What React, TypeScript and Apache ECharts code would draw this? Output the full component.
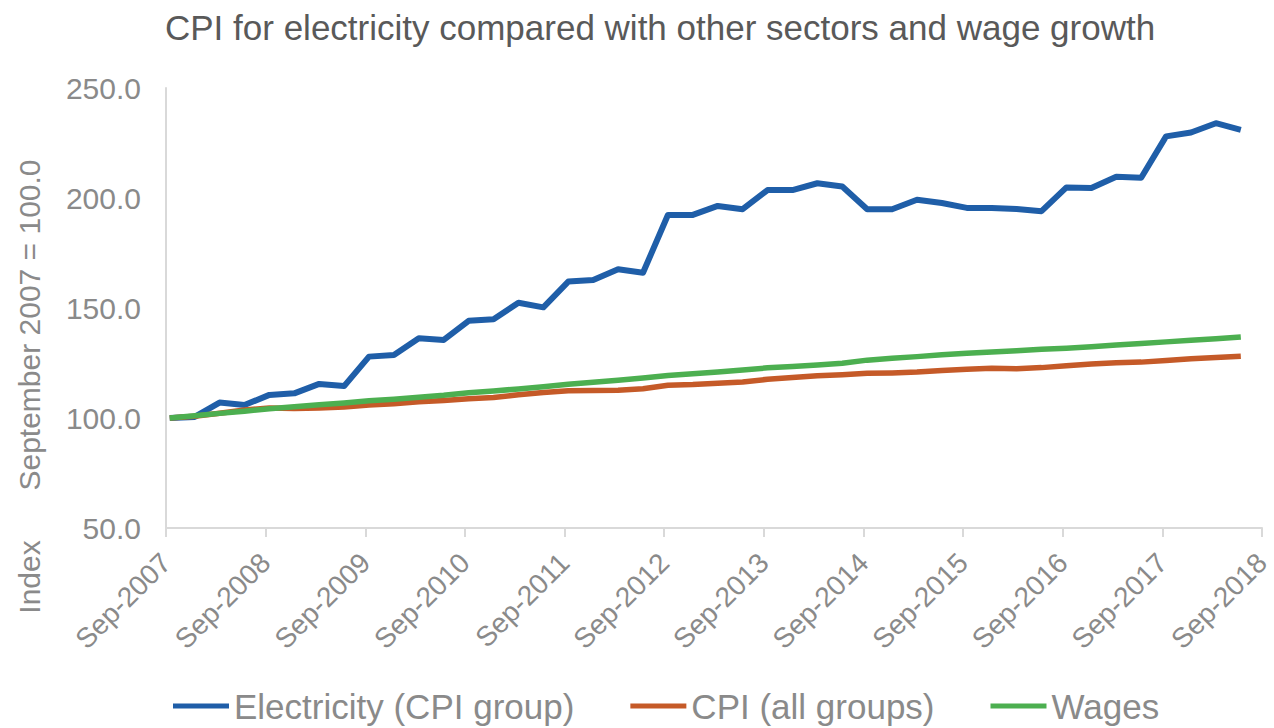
import React, { useEffect, useRef } from "react";
import * as echarts from "echarts";

const TITLE = "CPI for electricity compared with other sectors and wage growth";
const SERIES_NAMES = ["Electricity (CPI group)", "CPI (all groups)", "Wages"];
const SERIES_COLORS = ["#1f5ea8", "#c55a28", "#4caf50"];
const START_YEAR = 2007;
const TICK_LABELS = [
  "Sep-2007", "Sep-2008", "Sep-2009", "Sep-2010", "Sep-2011", "Sep-2012",
  "Sep-2013", "Sep-2014", "Sep-2015", "Sep-2016", "Sep-2017", "Sep-2018",
];

// quarterly, Sep-2007 .. Jun-2018
const electricity = [
  100.0, 100.5, 107.0, 105.9, 110.5, 111.2, 115.5, 114.5,
  127.9, 128.6, 136.2, 135.5, 144.2, 144.9, 152.4, 150.3,
  162.0, 162.7, 167.6, 166.0, 192.3, 192.3, 196.4, 194.9,
  203.6, 203.6, 206.7, 205.2, 194.9, 194.9, 199.2, 197.7,
  195.5, 195.5, 195.0, 194.0, 204.8, 204.5, 209.7, 209.2,
  228.0, 229.8, 234.0, 231.0,
];
const cpiAll = [
  100.0, 100.8, 102.2, 103.6, 104.6, 104.3, 104.5, 105.0,
  105.9, 106.5, 107.4, 108.0, 108.8, 109.3, 110.6, 111.6,
  112.4, 112.5, 112.6, 113.3, 114.9, 115.2, 115.8, 116.4,
  117.6, 118.4, 119.2, 119.7, 120.3, 120.5, 120.9, 121.6,
  122.2, 122.6, 122.4, 122.9, 123.8, 124.5, 125.1, 125.4,
  126.1, 126.9, 127.5, 128.1,
];
const wages = [
  100.0, 101.0, 102.1, 103.1, 104.2, 105.1, 106.0, 106.8,
  107.8, 108.5, 109.4, 110.3, 111.5, 112.3, 113.2, 114.2,
  115.3, 116.3, 117.2, 118.2, 119.3, 120.1, 120.9, 121.8,
  122.8, 123.4, 124.1, 124.9, 126.3, 127.2, 127.9, 128.7,
  129.4, 130.0, 130.6, 131.2, 131.7, 132.4, 133.2, 133.9,
  134.6, 135.3, 136.0, 136.8,
];

const Y_MIN = 50;
const Y_MAX = 250;
const Y_INTERVAL = 50;
const X_INTERVAL = 4; // quarters per year
const POINT_OFFSET = 0.15; // quarter-end dates sit slightly after the tick

const FONT = "'Liberation Sans', Arial, sans-serif";

export default function App() {
  const ref = useRef<HTMLDivElement>(null);

  useEffect(() => {
    document.body.style.margin = "0";
    if (!ref.current) return;
    const chart = echarts.init(ref.current, undefined, { renderer: "svg" });
    const toPts = (arr: number[]) => arr.map((v, i) => [i + POINT_OFFSET, v]);
    const data = [electricity, cpiAll, wages];

    chart.setOption({
      animation: false,
      backgroundColor: "#ffffff",
      textStyle: { fontFamily: FONT },
      title: {
        text: TITLE,
        left: 160,
        top: 5,
        textStyle: {
          fontFamily: FONT,
          fontSize: 35,
          fontWeight: "normal",
          color: "#595959",
        },
      },
      grid: { left: 166, right: 3, top: 88, bottom: 200, containLabel: false },
      xAxis: {
        type: "value",
        min: 0,
        max: (TICK_LABELS.length - 1) * X_INTERVAL,
        interval: X_INTERVAL,
        axisLine: { show: true, lineStyle: { color: "#d9d9d9", width: 2 } },
        axisTick: { show: true, length: 9, lineStyle: { color: "#d9d9d9", width: 2 } },
        splitLine: { show: false },
        axisLabel: {
          rotate: 45,
          margin: 30,
          fontSize: 28,
          color: "#8a8a8a",
          fontFamily: FONT,
          formatter: (v: number) => TICK_LABELS[Math.round(v / X_INTERVAL)] ?? `Sep-${START_YEAR + v / X_INTERVAL}`,
        },
      },
      yAxis: {
        type: "value",
        min: Y_MIN,
        max: Y_MAX,
        interval: Y_INTERVAL,
        axisLine: { show: true, lineStyle: { color: "#d9d9d9", width: 2 } },
        axisTick: { show: false },
        splitLine: { show: false },
        axisLabel: {
          margin: 25,
          fontSize: 30,
          color: "#8a8a8a",
          fontFamily: FONT,
          formatter: (v: number) => v.toFixed(1),
        },
      },
      legend: {
        left: 168,
        top: 681,
        icon: "rect",
        itemWidth: 56,
        itemHeight: 5,
        itemGap: 56,
        selectedMode: false,
        textStyle: { fontSize: 35, color: "#8a8a8a", fontFamily: FONT, lineHeight: 40 },
        data: SERIES_NAMES,
      },
      graphic: [
        {
          type: "text",
          x: 29,
          y: 325,
          rotation: Math.PI / 2,
          style: {
            text: "September 2007 = 100.0",
            fontSize: 30,
            fontFamily: FONT,
            fill: "#8a8a8a",
            align: "center",
            verticalAlign: "middle",
          },
        },
        {
          type: "text",
          x: 29,
          y: 577,
          rotation: Math.PI / 2,
          style: {
            text: "Index",
            fontSize: 30,
            fontFamily: FONT,
            fill: "#8a8a8a",
            align: "center",
            verticalAlign: "middle",
          },
        },
      ],
      series: SERIES_NAMES.map((name, k) => ({
        name,
        type: "line",
        data: toPts(data[k]),
        symbol: "none",
        color: SERIES_COLORS[k],
        lineStyle: { color: SERIES_COLORS[k], width: k === 0 ? 6 : 5.5, join: "round" },
        z: 2 + k,
      })),
    });

    return () => chart.dispose();
  }, []);

  return <div ref={ref} style={{ width: 1274, height: 728 }} />;
}
